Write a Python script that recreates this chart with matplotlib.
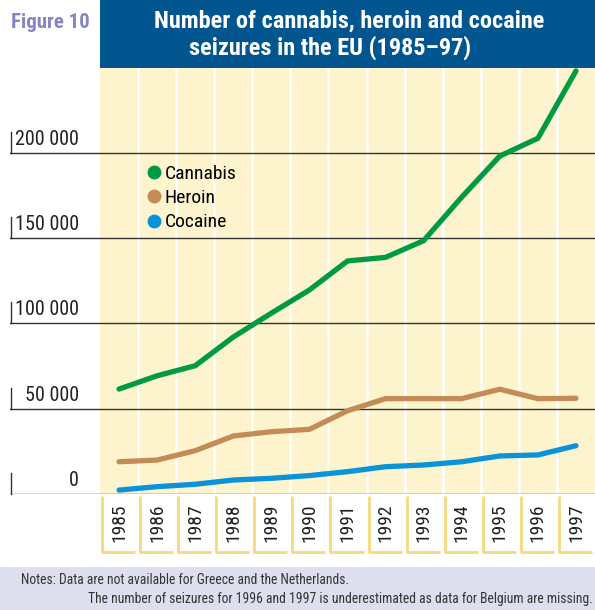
import matplotlib
matplotlib.use("Agg")
import matplotlib.pyplot as plt
from matplotlib.lines import Line2D
from matplotlib.patches import Rectangle

plt.rcParams['font.family'] = ['Roboto Condensed', 'DejaVu Sans']

years = [1985, 1986, 1987, 1988, 1989, 1990, 1991, 1992, 1993, 1994, 1995, 1996, 1997]
cannabis = [61500, 69300, 75200, 92000, 106000, 119600, 136600, 138700, 148500, 174000, 198100, 208500, 248000]
heroin = [18900, 19900, 25400, 34000, 36500, 37900, 48800, 55900, 55900, 55900, 61400, 55900, 56100]
cocaine = [2300, 4300, 5700, 8200, 9200, 10800, 13100, 16000, 17000, 18900, 22300, 22900, 28300]
series_names = ['Cannabis', 'Heroin', 'Cocaine']
series_colors = ['#009a44', '#c38b55', '#0a93d8']
yticks = [0, 50000, 100000, 150000, 200000]
ytick_labels = ['0', '50 000', '100 000', '150 000', '200 000']

title_lines = ['Number of cannabis, heroin and cocaine', 'seizures in the EU (1985\u201397)']
fig_label = 'Figure 10'
notes = ['Notes: Data are not available for Greece and the Netherlands.',
         'The number of seizures for 1996 and 1997 is underestimated as data for Belgium are missing.']

W, H = 595, 610
fig = plt.figure(figsize=(W / 100, H / 100), dpi=100)
fig.patch.set_facecolor('white')

# main axes: pixel x 10..595, y 68..494
ax_left, ax_right = 10, 595
ax_top, ax_bot = 68, 494
ax = fig.add_axes([ax_left / W, 1 - ax_bot / H, (ax_right - ax_left) / W, (ax_bot - ax_top) / H])
col_w = (595 - 100) / 13.0
x0 = years[0] - 0.5
ax.set_xlim(x0 - (100 - ax_left) / col_w, years[-1] + 0.5)
ymax = (ax_bot - ax_top) / 85.3 * 50000
ax.set_ylim(0, ymax)
ax.axis('off')

# cream plot background and white column separators
ax.axvspan(x0, years[-1] + 0.5, color='#fdf4cd', zorder=0, lw=0)
for y in years[:-1]:
    ax.axvline(y + 0.5, color='white', lw=1.8, zorder=1)

# gridlines with labels
xt = ax.get_xaxis_transform()
xl = ax.get_xlim()[0]
for v, lab in zip(yticks, ytick_labels):
    ax.axhline(v, color='#333333', lw=1.0, zorder=2)
    ax.annotate(lab, xy=(x0 - 21 / col_w, v), xytext=(0, 3), textcoords='offset points',
                ha='right', va='bottom', fontsize=14.5, color='#222222')
    ax.plot([xl + 0.02, xl + 0.02], [v, v + 21 / 85.3 * 50000],
            color='#333333', lw=1.0, zorder=2, clip_on=False)

# data lines
for vals, col in zip([cannabis, heroin, cocaine], series_colors):
    ax.plot(years, vals, color=col, lw=3.8, solid_capstyle='round', solid_joinstyle='miter', zorder=3)

# year boxes below axis
box_bot = -58 / (ax_bot - ax_top)
for y in years:
    l = y - 0.5 + 2 / col_w
    r = y + 0.5 - 3 / col_w
    ax.plot([l, l, r], [-0.004, box_bot, box_bot], transform=xt, color='#f6d97f', lw=2.0,
            clip_on=False, solid_capstyle='butt', zorder=2)
    ax.text(y, box_bot / 2, str(y), transform=xt, rotation=90, ha='center', va='center',
            fontsize=14, color='#222222')

# legend
handles = [Line2D([], [], marker='o', ls='none', color=c, markersize=9) for c in series_colors]
fig.legend(handles, series_names, loc='upper left', bbox_to_anchor=(144 / W, 1 - 165 / H),
           frameon=False, fontsize=14, handletextpad=0.05, labelspacing=0.32, borderpad=0,
           handlelength=1.0, borderaxespad=0)

# title banner
fig.patches.append(Rectangle((100 / W, 1 - 68 / H), (W - 100) / W, 68 / H, transform=fig.transFigure,
                             facecolor='#02568f', edgecolor='none', zorder=5))
fig.text(349 / W, 1 - 28 / H, title_lines[0], color='white', fontsize=17.5, fontweight='bold',
         ha='center', va='baseline', zorder=6)
fig.text(330 / W, 1 - 55 / H, title_lines[1], color='white', fontsize=17.5, fontweight='bold',
         ha='center', va='baseline', zorder=6)
fig.text(11 / W, 1 - 28 / H, fig_label, color='#8585c4', fontsize=15, fontweight='bold',
         ha='left', va='baseline')

# notes box
fig.patches.append(Rectangle((0, 0), 1, 43 / H, transform=fig.transFigure,
                             facecolor='#dedfee', edgecolor='none', zorder=0))
fig.text(21 / W, 1 - 580 / H, notes[0], fontsize=9.8, color='#333333', ha='left', va='center')
fig.text(88 / W, 1 - 599 / H, notes[1], fontsize=9.8, color='#333333', ha='left', va='center')

fig.savefig('out.png', dpi=100)
